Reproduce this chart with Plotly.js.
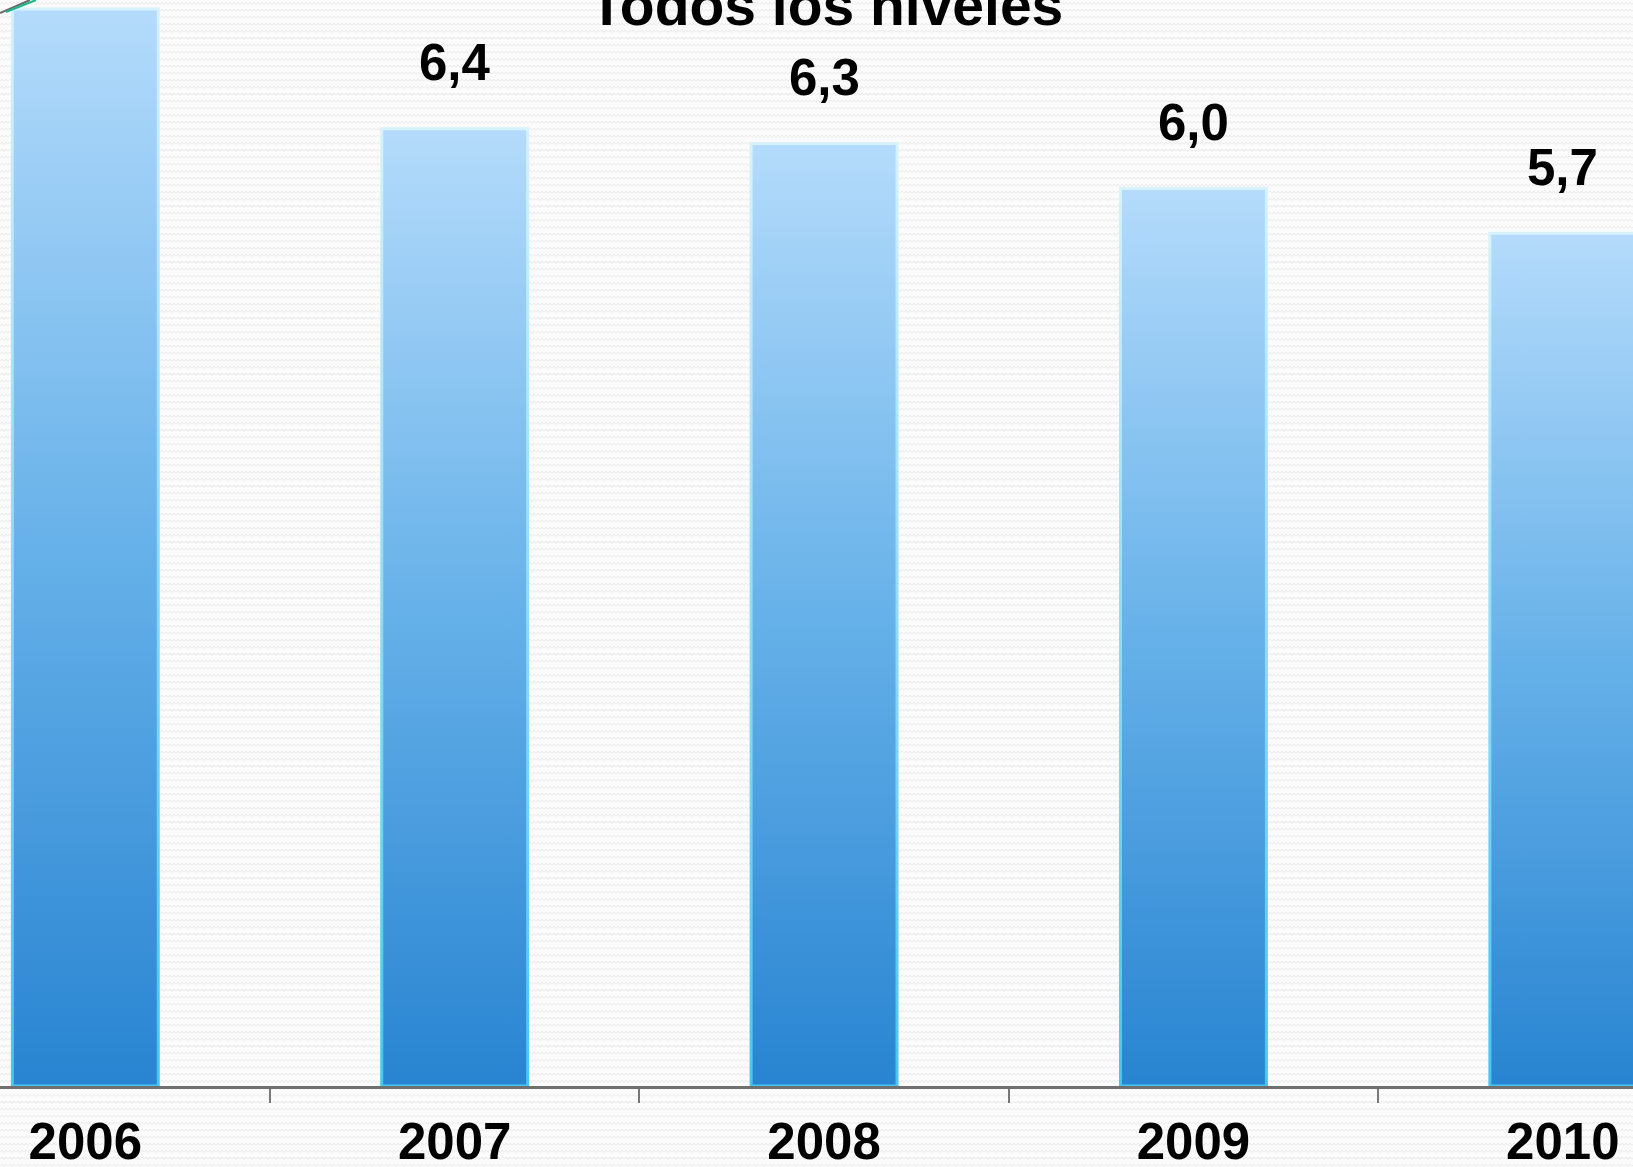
<!DOCTYPE html>
<html>
<head>
<meta charset="utf-8">
<script src="https://cdn.plot.ly/plotly-3.0.1.min.js"></script>
<style>
html, body { margin: 0; padding: 0; }
body {
  width: 1633px; height: 1167px; overflow: hidden;
  background-color: #fbfbfb;
  background-image: url("data:image/svg+xml;utf8,<svg xmlns='http://www.w3.org/2000/svg' width='8' height='7'><path d='M0 4.5 L2 2 L4 4.5 L6 2 L8 4.5' fill='none' stroke='%23eaeaea' stroke-width='1'/></svg>");
}
#chart { width: 1633px; height: 1167px; }
</style>
</head>
<body>
<div id="chart"></div>
<script>
// ---- data ----
var years = ['2006', '2007', '2008', '2009', '2010'];
var values = [7.2, 6.4, 6.3, 6.0, 5.7];
var chartTitle = 'Todos los niveles';

function fmt(v) { return v.toFixed(1).replace('.', ','); }

var FONT = 'Arial, "Liberation Sans", Helvetica, sans-serif';

var trace = {
  type: 'bar',
  x: years,
  y: values,
  marker: { color: '#5aa8e6', line: { color: '#7fd6f4', width: 3 } },
  hoverinfo: 'skip'
};

// category axis: annotations are placed by category index
var annotations = years.map(function (yr, i) {
  return {
    x: i, y: values[i], xref: 'x', yref: 'y',
    text: '<b>' + fmt(values[i]) + '</b>',
    showarrow: false, yanchor: 'middle', yshift: 66,
    font: { family: FONT, size: 51, color: '#000' }
  };
});

var layout = {
  width: 1633, height: 1167,
  paper_bgcolor: 'rgba(0,0,0,0)',
  plot_bgcolor: 'rgba(0,0,0,0)',
  margin: { l: 0, r: 0, t: 0, b: 81, pad: 0 },
  showlegend: false,
  bargap: 0.605,
  title: {
    text: '<b>' + chartTitle + '</b>',
    font: { family: FONT, size: 57, color: '#000' },
    x: 0.506, xanchor: 'center',
    y: 0.996, yref: 'container', yanchor: 'middle'
  },
  xaxis: {
    type: 'category',
    range: [-0.231, 4.19],
    tickson: 'boundaries',
    ticks: 'outside', ticklen: 14, tickwidth: 2, tickcolor: '#777777',
    showline: true, linecolor: '#6f6f6f', linewidth: 3,
    showgrid: false, zeroline: false,
    ticklabelstandoff: 9,
    tickfont: { family: FONT, size: 51, color: '#000', weight: 'bold' }
  },
  yaxis: {
    range: [0, 7.26], visible: false, showgrid: false, zeroline: false
  },
  annotations: annotations,
  shapes: [
    { type: 'line', xref: 'paper', yref: 'paper', x0: 0, y0: 1 - 13 / 1086, x1: 30 / 1633, y1: 1, line: { color: '#6a6a6a', width: 2 } },
    { type: 'line', xref: 'paper', yref: 'paper', x0: 6 / 1633, y0: 1 - 12 / 1086, x1: 36 / 1633, y1: 1, line: { color: '#19b88a', width: 2 } }
  ]
};

var gd = document.getElementById('chart');
Plotly.newPlot(gd, [trace], layout, { staticPlot: true, displayModeBar: false }).then(function () {
  var ns = 'http://www.w3.org/2000/svg';
  var svg = gd.querySelector('svg.main-svg');
  var defs = svg.querySelector('defs') || svg.insertBefore(document.createElementNS(ns, 'defs'), svg.firstChild);
  function grad(id, stops) {
    var g = document.createElementNS(ns, 'linearGradient');
    g.setAttribute('id', id);
    g.setAttribute('x1', '0'); g.setAttribute('y1', '0');
    g.setAttribute('x2', '0'); g.setAttribute('y2', '1');
    stops.forEach(function (s) {
      var st = document.createElementNS(ns, 'stop');
      st.setAttribute('offset', s[0]);
      st.setAttribute('stop-color', s[1]);
      g.appendChild(st);
    });
    defs.appendChild(g);
  }
  grad('barFill', [['0', '#b4dbfb'], ['0.5', '#66b1e9'], ['1', '#2884d1']]);
  grad('barEdge', [['0', '#d6f2fd'], ['1', '#45c6f2']]);
  gd.querySelectorAll('.barlayer .point path').forEach(function (p) {
    p.style.fill = 'url(#barFill)';
    p.style.stroke = 'url(#barEdge)';
    p.style.fillOpacity = 1;
  });
});
</script>
</body>
</html>
